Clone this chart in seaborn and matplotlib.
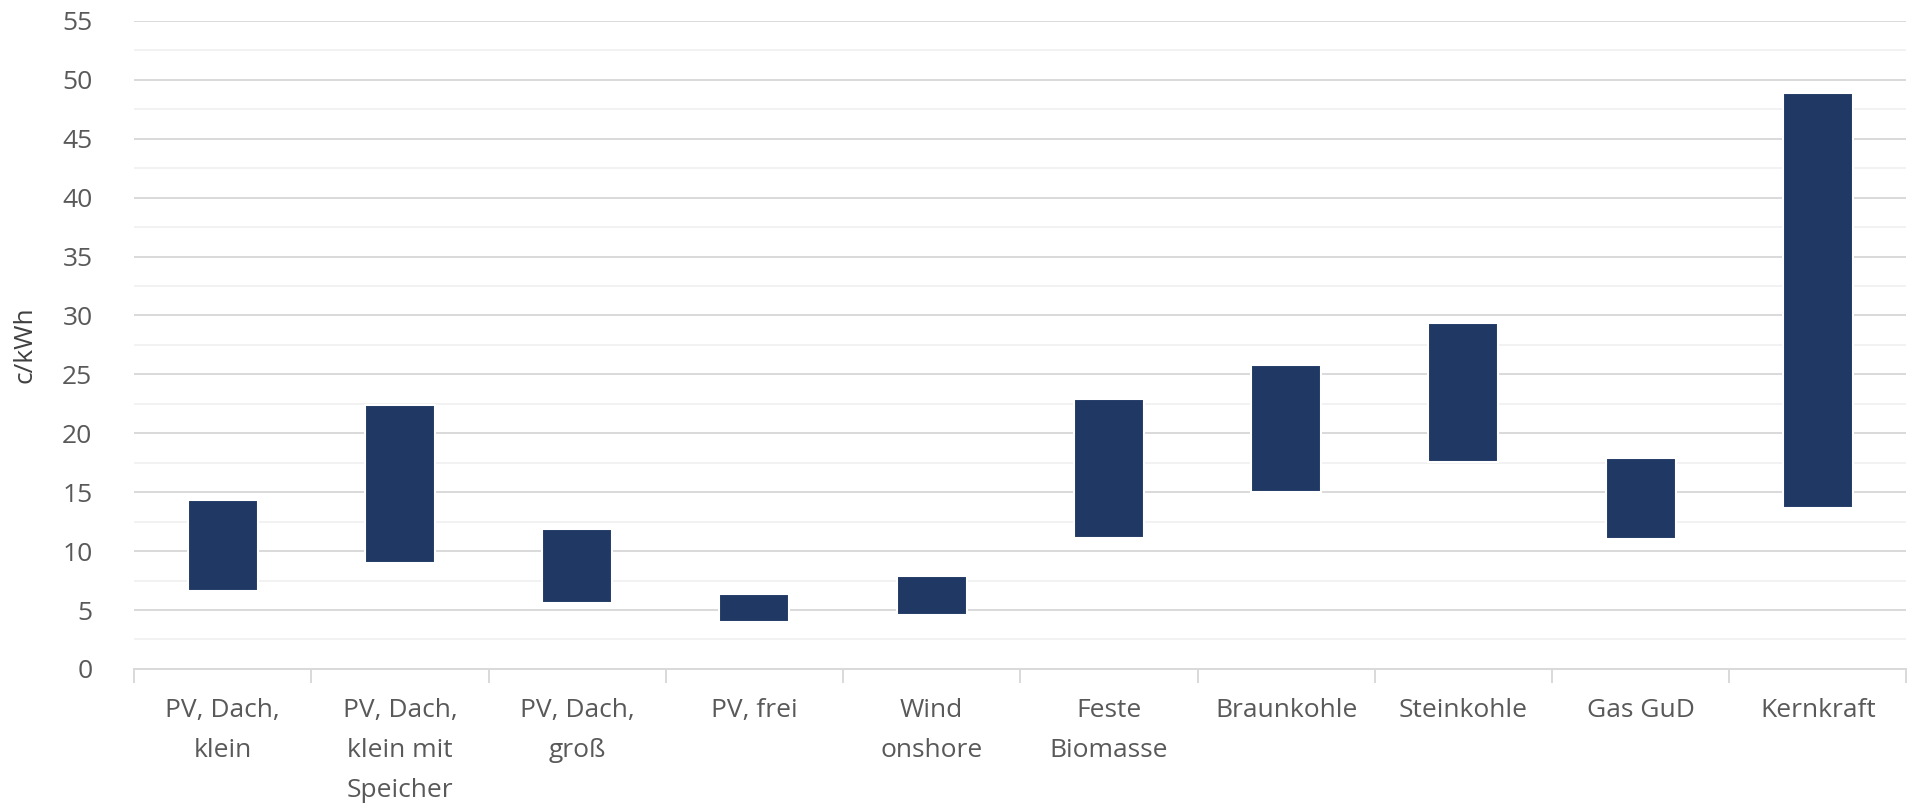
import numpy as np
import pandas as pd
import seaborn as sns
from matplotlib import pyplot as plt
from matplotlib.ticker import MultipleLocator, FixedLocator

# Stromgestehungskosten, Spannweite min..max in c/kWh
technologies = ["PV, Dach,\nklein", "PV, Dach,\nklein mit\nSpeicher", "PV, Dach,\ngroß", "PV, frei",
                "Wind\nonshore", "Feste\nBiomasse", "Braunkohle", "Steinkohle", "Gas GuD", "Kernkraft"]
cost_low = [6.6, 9.0, 5.6, 4.0, 4.6, 11.1, 15.0, 17.6, 11.0, 13.7]
cost_high = [14.3, 22.4, 11.9, 6.4, 7.9, 22.9, 25.8, 29.4, 17.9, 48.9]

bar_color = "#1f3864"
text_color = "#595959"

df = pd.DataFrame({"tech": technologies, "low": cost_low, "high": cost_high})
df["span"] = df["high"] - df["low"]

sns.set_theme(style="white")
plt.rcParams['font.family'] = ['Open Sans', 'DejaVu Sans']

fig = plt.figure(figsize=(19.16, 8.05), dpi=100)
ax = fig.add_axes([0.070, 0.169, 0.925, 0.805])

sns.barplot(data=df, x="tech", y="span", color=bar_color, saturation=1, width=0.395,
            edgecolor="white", linewidth=1.5, ax=ax, zorder=3)
# shift each bar up so it floats between low and high
for patch, low in zip(ax.patches, df["low"]):
    patch.set_y(low)

ax.set_ylim(0, 55)
ax.set_xlim(-0.5, len(technologies) - 0.5)
ax.yaxis.set_major_locator(MultipleLocator(5))
ax.yaxis.set_minor_locator(MultipleLocator(2.5))
ax.grid(which="major", axis="y", color="#d9d9d9", linewidth=1.4, zorder=0)
ax.grid(which="minor", axis="y", color="#f2f2f2", linewidth=1.4, zorder=0)
ax.set_axisbelow(True)

for side in ["top", "right", "left"]:
    ax.spines[side].set_visible(False)
ax.spines["bottom"].set_color("#d9d9d9")
ax.spines["bottom"].set_linewidth(1.4)

ax.xaxis.set_minor_locator(FixedLocator(np.arange(-0.5, len(technologies), 1.0)))
ax.tick_params(axis="x", which="major", length=0, pad=21, labelsize=19, labelcolor=text_color)
ax.tick_params(axis="x", which="minor", bottom=True, length=10, width=1.4, color="#d9d9d9")
ax.tick_params(axis="y", which="both", left=False, pad=24, labelsize=19, labelcolor=text_color)
for lbl in ax.get_xticklabels():
    lbl.set_linespacing(1.78)
    lbl.set_verticalalignment("top")

ax.set_xlabel("")
ax.set_ylabel("c/kWh", fontsize=19, color="#404040", labelpad=18)

fig.savefig("out.png", dpi=100)
